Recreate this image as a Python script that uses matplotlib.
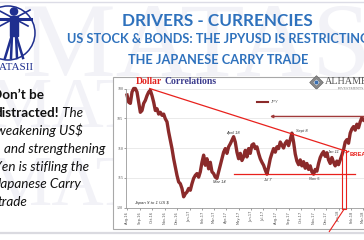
import matplotlib
matplotlib.use('Agg')
import matplotlib.pyplot as plt
import matplotlib.dates as mdates
from matplotlib.patches import Rectangle, Polygon, Circle
from matplotlib.lines import Line2D
import pandas as pd

# ---------------- data ----------------
series_name = "JPY"
series_start = "2016-07-31 12:00"
series_step = "98h"
jpy_values = [
    101.1, 102.3, 102.5, 100.6, 100.0, 100.0, 100.6, 102.3, 104.0, 103.7,
    102.5, 102.0, 101.2, 100.6, 100.3, 101.2, 102.3, 103.7, 103.4, 104.3,
    104.0, 104.5, 104.3, 105.1, 105.6, 107.3, 108.7, 110.1, 111.8, 113.2,
    114.6, 115.7, 116.0, 116.8, 118.2, 117.7, 117.4, 116.8, 117.1, 116.0,
    115.1, 114.6, 114.3, 114.9, 114.0,
    112.4, 111.2, 112.9, 111.8, 113.5, 112.4, 114.0, 114.3, 114.9, 115.1,
    114.0, 112.9, 111.8, 110.7, 110.1, 110.9, 109.8, 109.3, 108.7, 108.1,
    109.0, 110.7, 111.8, 110.9, 112.1, 111.5, 110.4, 111.5, 110.1, 110.9,
    109.5, 109.3, 110.1, 109.8, 110.9, 111.8, 112.4, 112.9, 113.7, 114.4,
    113.2, 111.8, 110.9, 110.1, 110.7, 109.8, 110.1, 109.0, 109.5,
    110.0, 109.2, 108.8, 109.6, 108.6, 107.5, 109.0, 111.0, 112.2, 112.8,
    112.0, 113.0, 112.3, 113.4, 112.6, 113.6, 113.0, 114.0, 114.4, 113.6,
    113.9, 112.6, 111.6, 111.0, 110.6, 111.4, 110.8, 112.0, 112.6, 111.6,
    112.4, 113.0, 112.2, 112.8, 112.0, 111.2, 110.3, 109.0, 108.6, 109.2,
    107.5, 106.8, 106.4, 107.0, 106.0, 106.6, 105.6, 104.9, 105.3,
]
y_ticks = [100, 105, 110, 115, 120]
x_range = ("2016-07-29", "2018-06-01")

# annotation levels (data units)
trend_pts = [("2016-09-25", 100.0), ("2018-01-11", 110.35)]
support_pts = [("2017-04-20", 114.4), ("2018-02-10", 114.4)]
resist_pts = [("2017-07-17", 104.7), ("2018-06-01", 104.7)]

title = "DRIVERS - CURRENCIES"
subtitle1 = "US STOCK & BONDS: THE JPYUSD IS RESTRICTING"
subtitle2 = "THE JAPANESE CARRY TRADE"
side_lines = [
    [("Don\u2019t be", "bold")],
    [("distracted!", "bold"), (" The", "italic")],
    [("weakening US$", "italic")],
    [("and strengthening", "italic")],
    [("Yen is stifling the", "italic")],
    [("Japanese Carry", "italic")],
    [("trade", "italic")],
]
notes = [("April 18", 232.7, 133.3), ("Sept 8", 301.7, 131.0), ("Jan 11", 332.7, 151.7),
         ("Mar 14", 219.0, 181.7), ("Jul 7", 267.3, 180.0), ("Nov 5", 314.0, 179.3)]

# ---------------- figure ----------------
W, H = 364, 240
fig = plt.figure(figsize=(W / 100, H / 100), dpi=100)
renderer = fig.canvas.get_renderer()

bg = fig.add_axes([0, 0, 1, 1], zorder=0)
bg.set_xlim(0, W); bg.set_ylim(H, 0); bg.axis('off')

def fit(ax, x, y, s, width, **kw):
    t = ax.text(x, y, s, fontsize=10, **kw)
    w = t.get_window_extent(renderer).width
    t.set_fontsize(10 * width / w)
    return t

def text_w(s, fs, **kw):
    t = bg.text(0, 0, s, fontsize=fs, **kw)
    w = t.get_window_extent(renderer).width
    t.remove()
    return w

# watermark (very faint)
wm = '#F2F2F7'
bg.text(22, 76, "MATASII", fontsize=76, family='Liberation Serif', color=wm, va='baseline', zorder=0)
bg.text(-12, 128, "MATASII", fontsize=52, family='Liberation Serif', color=wm, va='baseline', zorder=0)
bg.text(-12, 205, "MATASII", fontsize=52, family='Liberation Serif', color=wm, va='baseline', zorder=0)

# top & bottom slide lines
bg.plot([0, W], [1.5, 1.5], color='#DCDCE6', lw=1.0)
bg.plot([0, W], [232.5, 232.5], color='#DADAE0', lw=1.6)

# logo
blue = '#1F2F8F'
bg.add_patch(Circle((8, 33), 27, fill=False, ec=blue, lw=1.1))
bg.add_patch(Circle((14, 11.5), 3.6, color=blue))
bg.add_patch(Rectangle((10, 16), 8, 20, color=blue))
bg.plot([-1, 31], [18.5, 18.5], color=blue, lw=2.2)
bg.plot([0, 30], [26, 10], color=blue, lw=1.2)
bg.plot([28, -2], [26, 10], color=blue, lw=1.2)
for x0, x1 in [(12, 5), (16, 23), (12, 11), (16, 17)]:
    bg.plot([x0, x1], [35, 58], color=blue, lw=1.8)
bg.text(-10, 67, "MATASII", fontsize=8, family='Liberation Serif', color=blue, va='center')

# titles
tblue = '#2F72BD'
fit(bg, 217.5, 21, title, 191, family='Lato', weight='bold', color=tblue, ha='center', va='center')
t2 = fit(bg, 218, 60, subtitle2, 180, family='Lato', weight='bold', color=tblue, ha='center', va='center')
bg.text(218, 39, subtitle1, fontsize=t2.get_fontsize(), family='Lato', weight='bold',
        color=tblue, ha='center', va='center')

# side text
tmp = fit(bg, 0, 0, "and strengthening", 102, family='Lato', style='italic')
side_fs = tmp.get_fontsize(); tmp.remove()
side_x = [-8, -5.5, -4, 4, -6, -4.5, -3]
side_y = [95, 112.7, 130.7, 149.3, 166.7, 184.3, 201.7]
for parts, x, y in zip(side_lines, side_x, side_y):
    for s, st in parts:
        kw = dict(family='Lato', color='#111111')
        if st == 'bold':
            kw['weight'] = 'bold'
        else:
            kw['style'] = 'italic'
        bg.text(x, y, s, fontsize=side_fs, va='center', **kw)
        x += text_w(s.replace(' ', '\u00a0'), side_fs, **kw)

# chart box
bg.add_patch(Rectangle((113, 77), 320, 152, fc='white', ec='#A8A8A8', lw=0.8, zorder=2))

# "Dollar Correlations"
tmp = fit(bg, 0, 0, "Dollar Correlations", 80.7, family='Liberation Serif', weight='bold')
dfs = tmp.get_fontsize(); tmp.remove()
bg.text(136, 81.5, "Dollar", fontsize=dfs, family='Liberation Serif', weight='bold',
        color='#E3231E', va='center', zorder=3)
dx = text_w("Dollar", dfs, family='Liberation Serif', weight='bold') + 0.28 * dfs * 100 / 72
bg.text(136 + dx, 81.5, "Correlations", fontsize=dfs, family='Liberation Serif', weight='bold',
        color='#3A3A8C', va='center', zorder=3)

# ALHAMBRA logo
cx, cy, r = 316.5, 82.5, 6.8
bg.add_patch(Polygon([(cx, cy - r), (cx + r, cy), (cx, cy + r), (cx - r, cy)], fc='#8A8A8A', ec='#666', lw=0.5, zorder=3))
r2 = 3.6
bg.add_patch(Polygon([(cx, cy - r2), (cx + r2, cy), (cx, cy + r2), (cx - r2, cy)], fc='white', ec='#666', lw=0.4, zorder=3))
bg.add_patch(Circle((cx, cy), 1.3, color='#3A6FB0', zorder=4))
bg.text(325, 81.5, "ALHAMBRA", fontsize=7.3, family='Liberation Serif', color='#555555', va='center', zorder=3)
bg.text(337.5, 89, "INVESTMENTS", fontsize=2.8, family='Liberation Serif', color='#777777', va='center', zorder=3)

# ---------------- chart ----------------
ax = fig.add_axes([126 / W, (H - 207.5) / H, 274.1 / W, 119 / H], zorder=2)
ax.patch.set_alpha(0)
dates = pd.date_range(series_start, periods=len(jpy_values), freq=series_step)
line_color = '#8B2A2A'
ax.plot(dates, jpy_values, color=line_color, lw=2.4, clip_on=False, solid_joinstyle='round')
ax.set_ylim(120, 100)
ax.set_xlim(pd.Timestamp(x_range[0]), pd.Timestamp(x_range[1]))
ax.set_yticks(y_ticks)
ax.yaxis.grid(True, color='#E2E2E2', lw=0.5)
ax.set_axisbelow(True)
ax.xaxis.set_major_locator(mdates.MonthLocator())
ax.xaxis.set_major_formatter(mdates.DateFormatter('%b-%y'))
for s in ['top', 'right']:
    ax.spines[s].set_visible(False)
for s in ['left', 'bottom']:
    ax.spines[s].set_color('#9A9A9A'); ax.spines[s].set_linewidth(0.6)
ax.tick_params(axis='y', labelsize=3, length=1.2, width=0.4, pad=0.8, colors='#555555')
ax.tick_params(axis='x', labelsize=2.6, length=1.6, width=0.4, pad=0.8, colors='#555555', labelrotation=90)
for lab in ax.get_yticklabels():
    lab.set_family('Liberation Serif')

def dp(p):
    return pd.Timestamp(p[0]), p[1]

red = '#E8211D'
(x0, y0), (x1, y1) = dp(trend_pts[0]), dp(trend_pts[1])
ax.plot([x0, x1], [y0, y1], color=red, lw=0.9, clip_on=False)
(x0, y0), (x1, y1) = dp(support_pts[0]), dp(support_pts[1])
ax.plot([x0, x1], [y0, y1], color=red, lw=0.9, clip_on=False)
(x0, y0), (x1, y1) = dp(resist_pts[0]), dp(resist_pts[1])
ax.annotate('', xy=(x0, y0), xytext=(x1, y1), annotation_clip=False,
            arrowprops=dict(arrowstyle='-|>', color='#A03A3A', lw=1.0, mutation_scale=4,
                            shrinkA=0, shrinkB=0))

proxy = Line2D([], [], color=line_color, lw=1.5)
ax.legend([proxy], [series_name], loc='center left', bbox_to_anchor=(257 / W, 1 - 102.3 / H),
          bbox_transform=fig.transFigure, frameon=False, handlelength=2.7, handletextpad=0.4,
          borderpad=0, borderaxespad=0, labelcolor='#555555',
          prop={'size': 3, 'style': 'italic', 'family': 'Liberation Sans'})

# ---------------- overlay annotations ----------------
ov = fig.add_axes([0, 0, 1, 1], zorder=3)
ov.set_xlim(0, W); ov.set_ylim(H, 0); ov.axis('off'); ov.patch.set_alpha(0)
for s, x, y in notes:
    ov.text(x, y, s, fontsize=2.9, style='italic', family='Liberation Sans', color='#333333',
            ha='center', va='center')
ov.text(134, 203.3, "Japan \u00a5 to 1 US $", fontsize=3.2, style='italic', family='Liberation Sans',
        color='#333333', va='center')
ov.add_patch(Rectangle((341.7, 150), 4, 59.3, fill=False, ec=red, lw=0.8))
ov.plot([344, 329.3], [209.3, 231.5], color=red, lw=0.8)
ov.plot([346.2, 348.6], [152.6, 151.4], color=red, lw=1.0)
ov.text(350, 155, "BREAKOUT", fontsize=4.2, weight='bold', family='Liberation Sans', color=red, va='center')

fig.savefig('out.png', dpi=100)
